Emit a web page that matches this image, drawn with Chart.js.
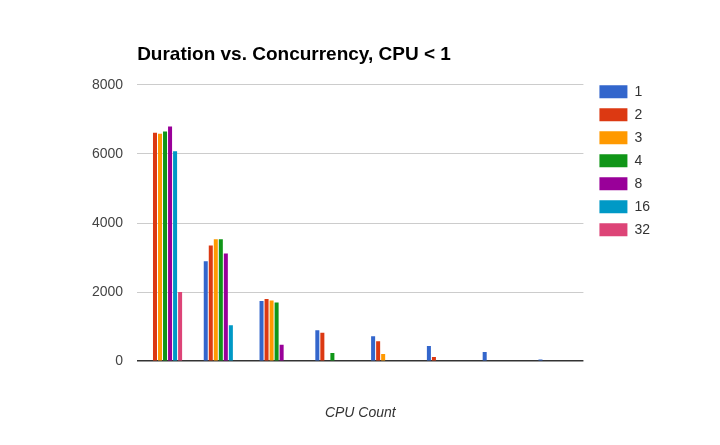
<!DOCTYPE html>
<html>
<head>
<meta charset="utf-8">
<script src="https://cdn.jsdelivr.net/npm/chart.js@4/dist/chart.umd.min.js"></script>
<style>
   html, body { margin: 0; padding: 0; background: #fff; }
   #wrap { width: 720px; height: 445px; }
</style>
</head>
<body>
<div id="wrap"><canvas id="durChart" width="720" height="445"></canvas></div>
<script>
// 8 groups, no labels shown on the axis
var categories = ["", "", "", "", "", "", "", ""]
var seriesNames = ["1", "2", "3", "4", "8", "16", "32"]
var seriesColors = ["#3366cc", "#dc3912", "#ff9900", "#109618", "#990099", "#0099c6", "#dd4477"]

var s1 = [null, 2890, 1745, 895, 720, 440, 265, 50]
var s2 = [6610, 3350, 1800, 825, 575, 125, null, null]
var s3 = [6580, 3530, 1760, null, 205, null, null, null]
var s4 = [6650, 3530, 1700, 235, null, null, null, null]
var s8 = [6795, 3115, 475, null, null, null, null, null]
var s16 = [6080, 1040, null, null, null, null, null, null]
var s32 = [2005, null, null, null, null, null, null, null]
var yTicks = [0, 2000, 4000, 6000, 8000]

var allSeries = [s1, s2, s3, s4, s8, s16, s32]
var datasets = allSeries.map(function (vals, i) {
   return {
      label: seriesNames[i],
      data: vals,
      backgroundColor: seriesColors[i],
      borderWidth: 0,
      categoryPercentage: 0.63,
      barPercentage: 0.8,
   }
})

// legend sits flush with the top of the plot in the original, a bit further right
var legendNudge = {
   id: "legendNudge",
   afterLayout: function (chart) {
      var lg = chart.legend
      if (lg) {
         lg.top -= 9
         lg.bottom -= 9
         lg.left += 7
         lg.right += 7
      }
   },
}

var ctx = document.getElementById("durChart").getContext("2d")
var chart = new Chart(ctx, {
   type: "bar",
   data: {
      labels: categories,
      datasets: datasets,
   },
   plugins: [legendNudge],
   options: {
      responsive: false,
      animation: false,
      layout: {
         padding: { left: 78, right: 67, top: 0, bottom: 23 },
      },
      plugins: {
         tooltip: { enabled: false },
         title: {
            display: true,
            text: "Duration vs. Concurrency, CPU < 1",
            align: "start",
            fullSize: false,
            color: "#000",
            font: { family: "Liberation Sans, Arial", size: 19, weight: "bold" },
            padding: { top: 43, bottom: 19 },
         },
         legend: {
            position: "right",
            align: "start",
            fullSize: false,
            labels: {
               boxWidth: 28,
               boxHeight: 13,
               padding: 9,
               color: "#333",
               font: { family: "Liberation Sans, Arial", size: 14 },
            },
         },
      },
      scales: {
         x: {
            grid: { display: false },
            border: { display: false },
            ticks: { display: false },
            title: {
               display: true,
               text: "CPU Count",
               color: "#333",
               font: { family: "Liberation Sans, Arial", size: 14, style: "italic" },
               padding: { top: 36, bottom: 0 },
            },
         },
         y: {
            min: 0,
            max: 8000,
            border: { display: false },
            afterBuildTicks: function (axis) {
               axis.ticks = yTicks.map(function (v) { return { value: v } })
            },
            grid: {
               drawTicks: false,
               color: function (c) { return c.tick && c.tick.value === 0 ? "#333" : "#ccc" },
               lineWidth: function (c) { return c.tick && c.tick.value === 0 ? 1.5 : 1 },
            },
            ticks: {
               padding: 14,
               color: "#444",
               font: { family: "Liberation Sans, Arial", size: 14 },
               callback: function (v) { return String(v) },
            },
         },
      },
   },
})
</script>
</body>
</html>
